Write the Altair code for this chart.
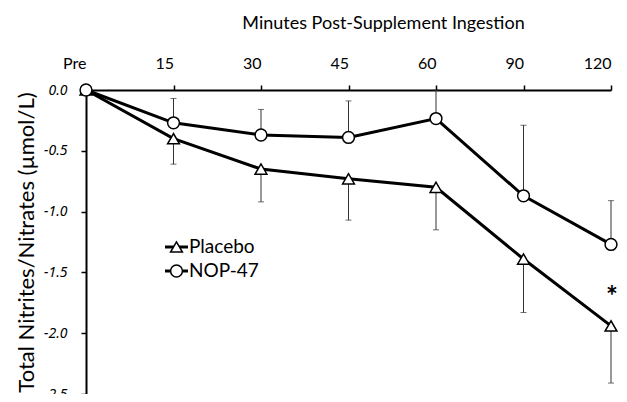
import altair as alt
import pandas as pd

times = ["Pre", "15", "30", "45", "60", "90", "120"]
placebo = [0.0, -0.40, -0.65, -0.73, -0.80, -1.39, -1.94]
placebo_err = [0.0, 0.21, 0.27, 0.34, 0.35, 0.44, 0.47]
nop = [0.0, -0.27, -0.37, -0.39, -0.235, -0.87, -1.27]
nop_err = [0.0, 0.20, 0.21, 0.30, 0.235, 0.58, 0.36]
series = ["Placebo", "NOP-47"]
y_ticks = [0.0, -0.5, -1.0, -1.5, -2.0, -2.5]
sig_time = "120"
sig_value = -1.64

rows = []
for t, v, e in zip(times, placebo, placebo_err):
    rows.append({"time": t, "series": "Placebo", "value": v, "err": e, "end": v - e})
for t, v, e in zip(times, nop, nop_err):
    rows.append({"time": t, "series": "NOP-47", "value": v, "err": e, "end": v + e})
df = pd.DataFrame(rows)
df_err = df[df["err"] > 0]

FONT = "Lato"
W, H = 525, 304

xenc = alt.X("time:O", sort=times, scale=alt.Scale(type="point", padding=0),
             axis=alt.Axis(orient="top", title="Minutes Post-Supplement Ingestion",
                           labelAngle=0, labelFontSize=16, labelPadding=22,
                           titleFontSize=18, titleFontWeight="normal",
                           titleX=297, titleY=-67, titleBaseline="middle",
                           domainColor="black", domainWidth=2,
                           tickColor="black", tickWidth=1.5, tickSize=5,
                           labelColor="black", titleColor="black", grid=False))
yscale = alt.Scale(domain=[-2.5, 0], nice=False, zero=False)
yenc = alt.Y("value:Q", scale=yscale,
             axis=alt.Axis(values=y_ticks, title="Total Nitrites/Nitrates (µmol/L)",
                           labelExpr="replace(format(datum.value, '.1f'), '\u2212', '-')",
                           labelFont="Noto Sans", labelFontSize=14, labelFontStyle="italic",
                           labelPadding=14,
                           titleFontSize=22, titleFontWeight="normal", titlePadding=5,
                           domainColor="black", domainWidth=2,
                           tickColor="black", tickWidth=1.5, tickSize=5,
                           labelColor="black", titleColor="black", grid=False))

base = alt.Chart(df)

err_rule = alt.Chart(df_err).mark_rule(color="#333333", strokeWidth=1).encode(
    x=alt.X("time:O", sort=times), y=alt.Y("value:Q", scale=yscale), y2="end:Q")
err_cap = alt.Chart(df_err).mark_tick(color="#333333", thickness=1, size=6).encode(
    x=alt.X("time:O", sort=times), y=alt.Y("end:Q", scale=yscale))

lines = base.mark_line(color="black", strokeWidth=3).encode(
    x=xenc, y=yenc, detail="series:N")

shape_scale = alt.Scale(domain=series, range=["triangle-up", "circle"])
points = base.mark_point(filled=False, fill="white", fillOpacity=1, stroke="black",
                         strokeWidth=1.5, size=140, opacity=1).encode(
    x=alt.X("time:O", sort=times), y=alt.Y("value:Q", scale=yscale),
    shape=alt.Shape("series:N", scale=shape_scale, legend=None))

star = alt.Chart(pd.DataFrame({"time": [sig_time], "value": [sig_value], "t": ["*"]})).mark_text(
    font=FONT, fontSize=28, fontWeight="bold", color="black", dx=1, dy=9).encode(
    x=alt.X("time:O", sort=times), y=alt.Y("value:Q", scale=yscale), text="t:N")

# legend (drawn manually, Excel style)
leg_y = [157, 181]
legend_layers = []
for s, ly in zip(series, leg_y):
    d = alt.Chart(pd.DataFrame({"series": [s]}))
    legend_layers.append(d.mark_rule(color="black", strokeWidth=3).encode(
        x=alt.value(79), x2=alt.value(102), y=alt.value(ly)))
    legend_layers.append(d.mark_point(filled=False, fill="white", fillOpacity=1, stroke="black",
                                      strokeWidth=1.5, size=140, opacity=1).encode(
        x=alt.value(90.5), y=alt.value(ly),
        shape=alt.Shape("series:N", scale=shape_scale, legend=None)))
    legend_layers.append(d.mark_text(font=FONT, fontSize=19, align="left", baseline="middle",
                                     color="black").encode(
        x=alt.value(103), y=alt.value(ly), text="series:N"))

chart = alt.layer(err_rule, err_cap, lines, points, star, *legend_layers).properties(
    width=W, height=H,
    autosize=alt.AutoSizeParams(type="none"),
    padding={"left": 78, "top": 82, "right": 8, "bottom": 0},
).configure(font=FONT).configure_view(stroke=None)

chart.save("out.html", embed_options={"renderer": "svg", "actions": False})
